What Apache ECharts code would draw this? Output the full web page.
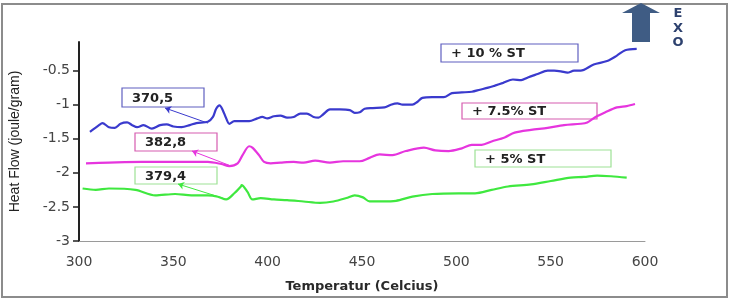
<!DOCTYPE html>
<html>
<head>
<meta charset="utf-8">
<script src="https://cdn.jsdelivr.net/npm/echarts@6/dist/echarts.min.js"></script>
<style>
  html, body { margin: 0; padding: 0; background: #fff; }
  #chart { width: 734px; height: 300px; }
</style>
</head>
<body>
<div id="chart"></div>
<script>
// data
const tempBlue = [305.8, 310.6, 312.4, 315.9, 319, 322, 325.5, 328.2, 330.8, 334.2, 338.6, 343, 346.5, 350, 354.4, 358.7, 362.2, 368.3, 371, 372.7, 374.5, 376.2, 378, 379.7, 382.3, 385.8, 390.2, 394.5, 397.2, 399.8, 403.3, 406.8, 410.3, 413.8, 417.3, 420.8, 424.3, 426.9, 429.5, 433, 438.3, 443.5, 446.1, 448.8, 451.4, 455.7, 461.9, 465.3, 468.8, 471.5, 476.7, 479.3, 482, 487.2, 493.3, 497.7, 502.9, 508.2, 512.5, 516.9, 520.4, 524.8, 530, 534.4, 537.9, 543.1, 548.4, 551.8, 555.4, 558.9, 562.4, 565.9, 572.8, 579.9, 585.1, 589.5, 595.6];
const heatBlue = [-1.40, -1.30, -1.27, -1.33, -1.34, -1.28, -1.26, -1.30, -1.33, -1.30, -1.35, -1.30, -1.29, -1.32, -1.33, -1.30, -1.27, -1.25, -1.18, -1.06, -1.01, -1.08, -1.20, -1.28, -1.24, -1.24, -1.24, -1.20, -1.18, -1.20, -1.17, -1.16, -1.19, -1.18, -1.13, -1.13, -1.18, -1.19, -1.14, -1.07, -1.07, -1.08, -1.12, -1.11, -1.06, -1.05, -1.04, -1.00, -0.98, -1.00, -1.00, -0.96, -0.90, -0.89, -0.89, -0.83, -0.82, -0.81, -0.78, -0.75, -0.72, -0.68, -0.63, -0.64, -0.60, -0.55, -0.50, -0.50, -0.51, -0.53, -0.50, -0.50, -0.41, -0.36, -0.28, -0.20, -0.18];

const tempPink = [303.7, 315.9, 333.4, 350.9, 368.3, 375.4, 379.7, 384.1, 386.7, 390.2, 391.9, 395.4, 398.1, 401.6, 406.8, 413.8, 419, 425.2, 433, 440, 448.8, 454, 459.3, 466.2, 473.2, 482.8, 488.9, 495.9, 502.9, 508.2, 513.4, 518.7, 525.6, 530.9, 539.6, 548.4, 557.1, 565.9, 569.4, 573.8, 579, 585.1, 590.3, 594.7];
const heatPink = [-1.86, -1.85, -1.84, -1.84, -1.84, -1.87, -1.90, -1.86, -1.74, -1.61, -1.63, -1.74, -1.84, -1.86, -1.85, -1.84, -1.85, -1.82, -1.85, -1.83, -1.83, -1.78, -1.73, -1.74, -1.68, -1.63, -1.67, -1.68, -1.64, -1.59, -1.59, -1.54, -1.48, -1.41, -1.37, -1.34, -1.30, -1.28, -1.26, -1.18, -1.11, -1.04, -1.02, -0.99];

const tempGreen = [301.9, 308.9, 315.9, 329.9, 340.4, 350.9, 359.6, 368.3, 373.6, 378, 382.3, 385.8, 386.2, 389.3, 391.9, 396.3, 403.3, 410.3, 419, 427.8, 434.8, 441.7, 446.1, 450.5, 454, 461, 468, 476.7, 487.2, 501.2, 509.9, 518.7, 527.4, 539.6, 550.1, 560.6, 567.6, 574.6, 582, 590.3];
const heatGreen = [-2.23, -2.25, -2.23, -2.25, -2.33, -2.31, -2.33, -2.33, -2.35, -2.39, -2.30, -2.20, -2.18, -2.28, -2.39, -2.37, -2.39, -2.40, -2.42, -2.44, -2.42, -2.37, -2.33, -2.36, -2.42, -2.42, -2.41, -2.35, -2.31, -2.30, -2.30, -2.25, -2.20, -2.17, -2.12, -2.07, -2.06, -2.04, -2.05, -2.07];

const yTicks = [-3, -2.5, -2, -1.5, -1, -0.5];
const seriesNames = ["+ 10 % ST", "+ 7.5% ST", "+ 5% ST"];
// peak labels and the point each arrow starts from
const peakLabels = ["370,5", "382,8", "379,4"];
const peakAnchors = [[368.3, -1.27], [379.7, -1.89], [376.2, -2.37]];

const colors = ["#3a3acd", "#e635de", "#3fe83f"];
const boxBorders = ["#5f5fc0", "#d65cb0", "#9de295"];

function zip(xs, ys) {
  return xs.map((x, i) => [x, ys[i]]);
}

let chart = echarts.init(document.getElementById("chart"));

// pixel positions of the label boxes, [x, y, w, h]
const peakBoxes = [[122, 88, 82, 19], [135, 133, 82, 18], [135, 167, 82, 17]];
const peakArrowHeads = [[165, 108], [192, 151], [178, 184]];
const nameBoxes = [[441, 44, 137, 18], [462, 103, 135, 16], [475, 150, 136, 17]];

function makeBox(b, border, text) {
  return {
    type: "group",
    children: [
      {
        type: "rect",
        shape: { x: b[0], y: b[1], width: b[2], height: b[3] },
        style: { fill: "#fff", stroke: border, lineWidth: 1.2 },
      },
      {
        type: "text",
        x: b[0] + 10,
        y: b[1] + b[3] / 2 + 1,
        style: {
          text: text,
          fill: "#222",
          font: "bold 13px 'DejaVu Sans'",
          verticalAlign: "middle",
        },
      },
    ],
  };
}

let graphics = [
  // outer frame
  {
    type: "rect",
    shape: { x: 2, y: 4, width: 725, height: 293 },
    style: { fill: "none", stroke: "#8c8c8c", lineWidth: 2 },
  },
  // EXO arrow
  {
    type: "polygon",
    shape: {
      points: [[632, 42], [650, 42], [650, 13], [660, 13], [641, 3], [622, 13], [632, 13]],
    },
    style: { fill: "#3f5c84" },
  },
];
["E", "X", "O"].forEach((ch, i) => {
  graphics.push({
    type: "text",
    x: 678,
    y: 14 + i * 14.5,
    style: {
      text: ch,
      fill: "#2d416e",
      font: "bold 13px 'DejaVu Sans'",
      align: "center",
      verticalAlign: "middle",
    },
  });
});
for (let i = 0; i < 3; i++) {
  graphics.push(makeBox(peakBoxes[i], boxBorders[i], peakLabels[i]));
  graphics.push(makeBox(nameBoxes[i], boxBorders[i], seriesNames[i]));
}

const allTemps = [tempBlue, tempPink, tempGreen];
const allHeat = [heatBlue, heatPink, heatGreen];

let option = {
  animation: false,
  grid: {
    left: 73,
    right: 89,
    top: 42,
    bottom: 59,
  },
  xAxis: {
    type: "value",
    min: 300,
    max: 600,
    interval: 50,
    name: "Temperatur (Celcius)",
    nameLocation: "middle",
    nameGap: 39,
    nameTextStyle: {
      color: "#2a2a2a",
      fontFamily: "DejaVu Sans",
      fontWeight: "bold",
      fontSize: 13,
    },
    axisLine: { lineStyle: { color: "#9a9a9a", width: 1 } },
    axisTick: { show: false },
    splitLine: { show: false },
    axisLabel: {
      color: "#444",
      fontFamily: "DejaVu Sans",
      fontSize: 14,
      margin: 14,
    },
  },
  yAxis: {
    type: "value",
    min: -3,
    max: -0.08,
    name: "Heat Flow (joule/gram)",
    nameLocation: "middle",
    nameRotate: 90,
    nameGap: 57,
    nameTextStyle: {
      color: "#222",
      fontFamily: "Liberation Sans",
      fontSize: 14,
    },
    axisLine: { show: true, lineStyle: { color: "#222", width: 2 } },
    axisTick: {
      show: true,
      length: 6,
      customValues: yTicks,
      lineStyle: { color: "#222", width: 1.5 },
    },
    splitLine: { show: false },
    axisLabel: {
      customValues: yTicks,
      color: "#444",
      fontFamily: "DejaVu Sans",
      fontSize: 14,
      margin: 9,
    },
  },
  graphic: graphics,
  series: seriesNames.map((name, i) => ({
    name: name,
    type: "line",
    data: zip(allTemps[i], allHeat[i]),
    showSymbol: false,
    smooth: 0.3,
    lineStyle: { color: colors[i], width: 2.2 },
    itemStyle: { color: colors[i] },
    markLine: {
      silent: true,
      symbol: ["none", "arrow"],
      symbolSize: 6,
      label: { show: false },
      lineStyle: { color: colors[i], width: 1, type: "solid" },
      data: [
        [
          { coord: peakAnchors[i] },
          { x: peakArrowHeads[i][0], y: peakArrowHeads[i][1] },
        ],
      ],
    },
  })),
};
chart.setOption(option);
</script>
</body>
</html>
